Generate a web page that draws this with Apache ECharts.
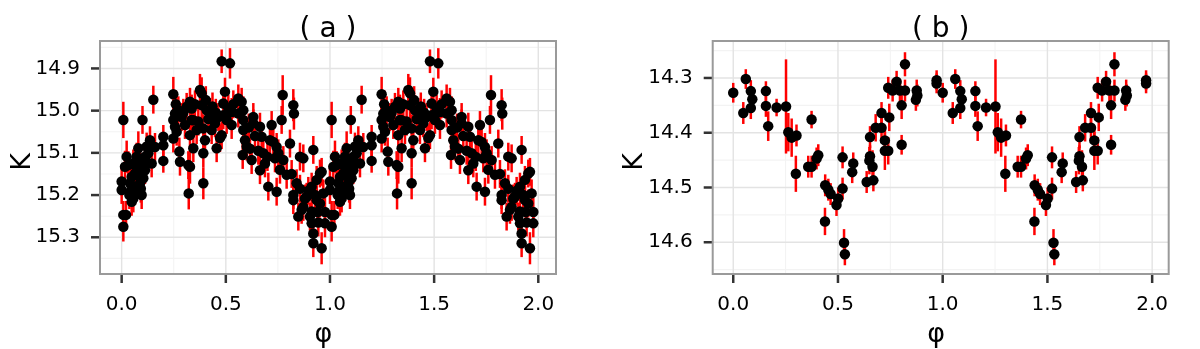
<!DOCTYPE html>
<html>
<head>
<meta charset="utf-8">
<script src="https://cdn.jsdelivr.net/npm/echarts@6.0.0/dist/echarts.min.js"></script>
<style>
html,body{margin:0;padding:0;background:#ffffff;}
#c{width:1200px;height:349px;}
</style>
</head>
<body>
<div id="c"></div>
<script>
// ---- Data: [phase, K, error] for one cycle; the plot shows phase and phase+1 ----
const obsA = [
[0.000,15.168,0.033],[0.000,15.188,0.033],[0.008,15.022,0.043],[0.008,15.247,0.033],[0.008,15.275,0.035],
[0.016,15.133,0.038],[0.021,15.247,0.033],[0.024,15.109,0.038],[0.032,15.129,0.033],[0.037,15.200,0.033],
[0.040,15.172,0.033],[0.044,15.190,0.033],[0.048,15.216,0.033],[0.048,15.157,0.033],[0.056,15.125,0.033],
[0.056,15.208,0.033],[0.064,15.149,0.033],[0.064,15.190,0.033],[0.068,15.130,0.033],[0.072,15.109,0.033],
[0.072,15.180,0.033],[0.080,15.089,0.040],[0.080,15.140,0.033],[0.088,15.172,0.033],[0.088,15.157,0.033],
[0.088,15.121,0.033],[0.092,15.185,0.033],[0.096,15.200,0.033],[0.100,15.022,0.033],[0.104,15.140,0.033],
[0.104,15.160,0.033],[0.112,15.109,0.033],[0.112,15.141,0.033],[0.116,15.120,0.033],[0.120,15.085,0.033],
[0.128,15.101,0.033],[0.136,15.070,0.033],[0.144,15.125,0.033],[0.152,14.974,0.033],[0.160,15.086,0.033],
[0.200,15.062,0.028],[0.200,15.082,0.028],[0.200,15.119,0.028],[0.248,14.961,0.041],[0.248,15.022,0.033],
[0.248,15.066,0.033],[0.256,15.007,0.033],[0.256,15.038,0.033],[0.260,14.985,0.033],[0.264,15.050,0.033],
[0.272,14.999,0.033],[0.277,15.097,0.033],[0.280,15.121,0.033],[0.288,15.015,0.033],[0.296,15.005,0.033],
[0.304,15.034,0.033],[0.312,14.991,0.033],[0.320,15.129,0.033],[0.322,15.196,0.038],[0.328,14.979,0.033],
[0.328,15.058,0.033],[0.328,15.133,0.040],[0.336,15.022,0.033],[0.336,14.995,0.033],[0.344,15.089,0.033],
[0.344,15.023,0.033],[0.352,14.985,0.033],[0.360,15.046,0.033],[0.368,15.026,0.033],[0.376,14.951,0.038],
[0.384,14.959,0.038],[0.384,14.987,0.033],[0.392,15.042,0.033],[0.392,15.101,0.033],[0.392,15.172,0.038],
[0.400,15.070,0.033],[0.404,14.975,0.033],[0.408,14.999,0.033],[0.416,15.020,0.033],[0.424,15.003,0.033],
[0.432,15.046,0.033],[0.436,14.990,0.033],[0.440,15.015,0.033],[0.448,15.030,0.033],[0.452,15.005,0.033],
[0.456,15.089,0.033],[0.464,15.015,0.033],[0.472,15.065,0.033],[0.480,14.883,0.028],[0.480,15.058,0.033],
[0.488,14.983,0.033],[0.488,15.011,0.033],[0.496,14.955,0.033],[0.504,15.022,0.033],[0.512,14.995,0.033],
[0.520,14.888,0.036],[0.528,15.003,0.033],[0.528,15.034,0.033],[0.536,14.985,0.033],[0.560,14.971,0.033],
[0.560,15.007,0.033],[0.576,14.979,0.033],[0.581,15.105,0.033],[0.584,14.999,0.033],[0.584,15.022,0.033],
[0.584,15.046,0.033],[0.592,15.070,0.033],[0.600,15.085,0.033],[0.610,15.040,0.033],[0.616,15.090,0.033],
[0.624,15.117,0.033],[0.632,15.015,0.033],[0.632,15.030,0.033],[0.640,15.060,0.033],[0.656,15.095,0.033],
[0.664,15.038,0.033],[0.664,15.141,0.033],[0.672,15.062,0.033],[0.680,15.101,0.033],[0.688,15.125,0.033],
[0.700,15.110,0.033],[0.704,15.180,0.033],[0.712,15.070,0.033],[0.720,15.034,0.033],[0.728,15.074,0.033],
[0.736,15.113,0.033],[0.744,15.086,0.033],[0.744,15.192,0.033],[0.752,15.101,0.033],[0.760,15.140,0.033],
[0.768,15.022,0.033],[0.773,14.963,0.047],[0.776,15.117,0.033],[0.792,15.152,0.033],[0.808,15.078,0.033],
[0.816,15.150,0.033],[0.824,14.987,0.038],[0.827,15.007,0.038],[0.824,15.200,0.033],[0.824,15.212,0.033],
[0.840,15.172,0.033],[0.848,15.251,0.033],[0.856,15.109,0.033],[0.856,15.185,0.033],[0.864,15.235,0.033],
[0.872,15.113,0.033],[0.872,15.228,0.033],[0.880,15.208,0.033],[0.888,15.204,0.033],[0.896,15.190,0.033],
[0.904,15.251,0.033],[0.912,15.180,0.033],[0.912,15.239,0.033],[0.912,15.267,0.033],[0.920,15.093,0.033],
[0.920,15.291,0.033],[0.920,15.314,0.033],[0.928,15.200,0.033],[0.936,15.164,0.033],[0.936,15.212,0.033],
[0.940,15.240,0.033],[0.944,15.265,0.033],[0.952,15.149,0.033],[0.952,15.220,0.033],[0.960,15.145,0.033],
[0.960,15.326,0.038],[0.968,15.196,0.033],[0.976,15.240,0.033],[0.976,15.267,0.033]
];

const obsB = [
[0.000,14.327,0.018],[0.048,14.364,0.020],[0.060,14.302,0.018],[0.084,14.324,0.020],[0.091,14.339,0.020],
[0.084,14.355,0.020],[0.156,14.324,0.018],[0.156,14.351,0.020],[0.167,14.388,0.027],[0.207,14.354,0.016],
[0.252,14.352,0.086],[0.263,14.399,0.035],[0.279,14.409,0.035],[0.302,14.405,0.020],[0.299,14.475,0.033],
[0.374,14.376,0.016],[0.358,14.462,0.020],[0.374,14.462,0.020],[0.398,14.447,0.020],[0.406,14.441,0.020],
[0.439,14.496,0.020],[0.454,14.504,0.020],[0.465,14.512,0.020],[0.438,14.562,0.025],[0.493,14.532,0.020],
[0.501,14.520,0.020],[0.522,14.502,0.020],[0.522,14.445,0.020],[0.529,14.601,0.025],[0.533,14.622,0.020],
[0.573,14.456,0.020],[0.568,14.472,0.020],[0.637,14.490,0.020],[0.653,14.443,0.020],[0.650,14.451,0.025],
[0.653,14.408,0.020],[0.665,14.462,0.030],[0.669,14.487,0.020],[0.680,14.391,0.025],[0.708,14.391,0.025],
[0.708,14.364,0.020],[0.724,14.414,0.025],[0.724,14.433,0.035],[0.740,14.433,0.025],[0.745,14.372,0.025],
[0.740,14.318,0.020],[0.761,14.323,0.020],[0.780,14.307,0.020],[0.796,14.323,0.020],[0.804,14.350,0.025],
[0.804,14.422,0.018],[0.820,14.323,0.020],[0.820,14.275,0.022],[0.876,14.323,0.020],[0.872,14.340,0.020],
[0.879,14.332,0.020],[0.971,14.304,0.018],[0.971,14.310,0.018]
];

const xTickValues = [0, 0.5, 1, 1.5, 2];
const xMinorValues = [0.25, 0.75, 1.25, 1.75];
const yTickValuesA = [14.9, 15.0, 15.1, 15.2, 15.3];
const yMinorValuesA = [14.85, 14.95, 15.05, 15.15, 15.25, 15.35];
const yTickValuesB = [14.3, 14.4, 14.5, 14.6];
const yMinorValuesB = [14.25, 14.35, 14.45, 14.55, 14.65];
const panelTitles = ['( a )', '( b )'];
const xAxisTitle = 'φ';
const yAxisTitle = 'K';

// ---- layout / style ----
const FONT = 'DejaVu Sans';
const TICK_COLOR = '#333333';
const BORDER = '#9a9a9a';
const TICK_LEN = 9;
// Each grid includes a 9px strip on the left and bottom for tick marks; the panel
// itself spans the "panel" range in data units.
const PANELS = [
  {grid: {left: 91, top: 41, width: 465, height: 242},
   xRange: [-0.1472, 2.085], yRange: [14.835, 15.4083],
   panel: {x0: -0.104, x1: 2.085, y0: 14.835, y1: 15.387}},
  {grid: {left: 703.7, top: 41, width: 465, height: 242},
   xRange: [-0.141, 2.079], yRange: [14.2325, 14.6744],
   panel: {x0: -0.098, x1: 2.079, y0: 14.2325, y1: 14.658}}
];

function fold(obs) {
  const out = [];
  obs.forEach(o => { out.push([o[0], o[1], o[2]]); });
  obs.forEach(o => { out.push([o[0] + 1, o[1], o[2]]); });
  return out;
}
// kinds: 0 x-major grid, 1 x-minor grid, 2 y-major grid, 3 y-minor grid, 4 x tick, 5 y tick, 6 border
function frameItems(xMaj, xMin, yMaj, yMin, xMid, yMid) {
  return [].concat(
    xMin.map(v => [v, yMid, 1]),
    yMin.map(v => [xMid, v, 3]),
    xMaj.map(v => [v, yMid, 0]),
    yMaj.map(v => [xMid, v, 2]),
    xMaj.map(v => [v, yMid, 4]),
    yMaj.map(v => [xMid, v, 5]),
    [[xMid, yMid, 6]]
  );
}
function makeFrameRenderer(pb) {
  return function (params, api) {
    const kind = api.value(2);
    const tl = api.coord([pb.x0, pb.y0]);
    const br = api.coord([pb.x1, pb.y1]);
    const p = api.coord([api.value(0), api.value(1)]);
    if (kind === 6) {
      return {type: 'rect', silent: true, z2: 100,
        shape: {x: tl[0], y: tl[1], width: br[0] - tl[0], height: br[1] - tl[1]},
        style: {fill: 'none', stroke: BORDER, lineWidth: 2}};
    }
    if (kind === 4) {
      return {type: 'line', silent: true,
        shape: {x1: p[0], y1: br[1], x2: p[0], y2: br[1] + TICK_LEN},
        style: {stroke: TICK_COLOR, lineWidth: 2.5}};
    }
    if (kind === 5) {
      return {type: 'line', silent: true,
        shape: {x1: tl[0] - TICK_LEN, y1: p[1], x2: tl[0], y2: p[1]},
        style: {stroke: TICK_COLOR, lineWidth: 2.5}};
    }
    const major = (kind % 2 === 0);
    const shape = kind < 2
      ? {x1: p[0], y1: tl[1], x2: p[0], y2: br[1]}
      : {x1: tl[0], y1: p[1], x2: br[0], y2: p[1]};
    return {type: 'line', shape: shape, silent: true,
      style: {stroke: major ? '#e3e3e3' : '#f3f3f3', lineWidth: major ? 1.4 : 1.1}};
  };
}
function renderErr(params, api) {
  const x = api.value(0), y = api.value(1), e = api.value(2);
  const a = api.coord([x, y - e]);
  const b = api.coord([x, y + e]);
  return {type: 'line', shape: {x1: a[0], y1: a[1], x2: b[0], y2: b[1]},
    style: {stroke: '#ff0000', lineWidth: 2.5}};
}

const grids = PANELS.map(P => ({
  left: P.grid.left, top: P.grid.top, width: P.grid.width, height: P.grid.height,
  show: false, containLabel: false, outerBoundsMode: 'none'
}));

function xAxisCfg(idx) {
  return {
    type: 'value', gridIndex: idx, min: PANELS[idx].xRange[0], max: PANELS[idx].xRange[1],
    axisLine: {show: false, onZero: false},
    splitLine: {show: false},
    axisTick: {show: false},
    axisLabel: {customValues: xTickValues, formatter: v => v.toFixed(1), margin: 12, hideOverlap: false,
      fontFamily: FONT, fontSize: 20, color: '#000'},
    name: xAxisTitle, nameLocation: 'middle', nameGap: 38, nameMoveOverlap: false,
    nameTextStyle: {fontFamily: FONT, fontSize: 27, color: '#000'}
  };
}
function yAxisCfg(idx, ticks) {
  return {
    type: 'value', gridIndex: idx, min: PANELS[idx].yRange[0], max: PANELS[idx].yRange[1], inverse: true,
    axisLine: {show: false, onZero: false},
    splitLine: {show: false},
    axisTick: {show: false},
    axisLabel: {customValues: ticks, formatter: v => v.toFixed(1), margin: 11, hideOverlap: false,
      fontFamily: FONT, fontSize: 20, color: '#000'},
    name: yAxisTitle, nameLocation: 'middle', nameGap: 55, nameRotate: 90, nameMoveOverlap: false,
    nameTextStyle: {fontFamily: FONT, fontSize: 27, color: '#000'}
  };
}

const dataA = fold(obsA);
const dataB = fold(obsB);

const option = {
  animation: false,
  backgroundColor: '#ffffff',
  grid: grids,
  xAxis: [xAxisCfg(0), xAxisCfg(1)],
  yAxis: [yAxisCfg(0, yTickValuesA), yAxisCfg(1, yTickValuesB)],
  graphic: [
    {id: 'ta', type: 'text', x: 328, y: 30, style: {text: panelTitles[0], fontFamily: FONT, fontSize: 28, fill: '#000',
      textAlign: 'center', textVerticalAlign: 'middle', align: 'center', verticalAlign: 'middle'}},
    {id: 'tb', type: 'text', x: 940.7, y: 30, style: {text: panelTitles[1], fontFamily: FONT, fontSize: 28, fill: '#000',
      textAlign: 'center', textVerticalAlign: 'middle', align: 'center', verticalAlign: 'middle'}}
  ],
  series: [
    {type: 'custom', xAxisIndex: 0, yAxisIndex: 0, z: 1, silent: true, clip: false,
      renderItem: makeFrameRenderer(PANELS[0].panel), encode: {x: 0, y: 1},
      data: frameItems(xTickValues, xMinorValues, yTickValuesA, yMinorValuesA, 1, 15.1)},
    {type: 'custom', xAxisIndex: 1, yAxisIndex: 1, z: 1, silent: true, clip: false,
      renderItem: makeFrameRenderer(PANELS[1].panel), encode: {x: 0, y: 1},
      data: frameItems(xTickValues, xMinorValues, yTickValuesB, yMinorValuesB, 1, 14.45)},
    {type: 'custom', xAxisIndex: 0, yAxisIndex: 0, z: 2, renderItem: renderErr, encode: {x: 0, y: 1}, data: dataA},
    {type: 'custom', xAxisIndex: 1, yAxisIndex: 1, z: 2, renderItem: renderErr, encode: {x: 0, y: 1}, data: dataB},
    {type: 'scatter', xAxisIndex: 0, yAxisIndex: 0, z: 3, symbol: 'circle', symbolSize: 10.5,
      itemStyle: {color: '#000', opacity: 1}, data: dataA.map(d => [d[0], d[1]])},
    {type: 'scatter', xAxisIndex: 1, yAxisIndex: 1, z: 3, symbol: 'circle', symbolSize: 10.5,
      itemStyle: {color: '#000', opacity: 1}, data: dataB.map(d => [d[0], d[1]])}
  ]
};

const chart = echarts.init(document.getElementById('c'));
chart.setOption(option);
</script>
</body>
</html>
